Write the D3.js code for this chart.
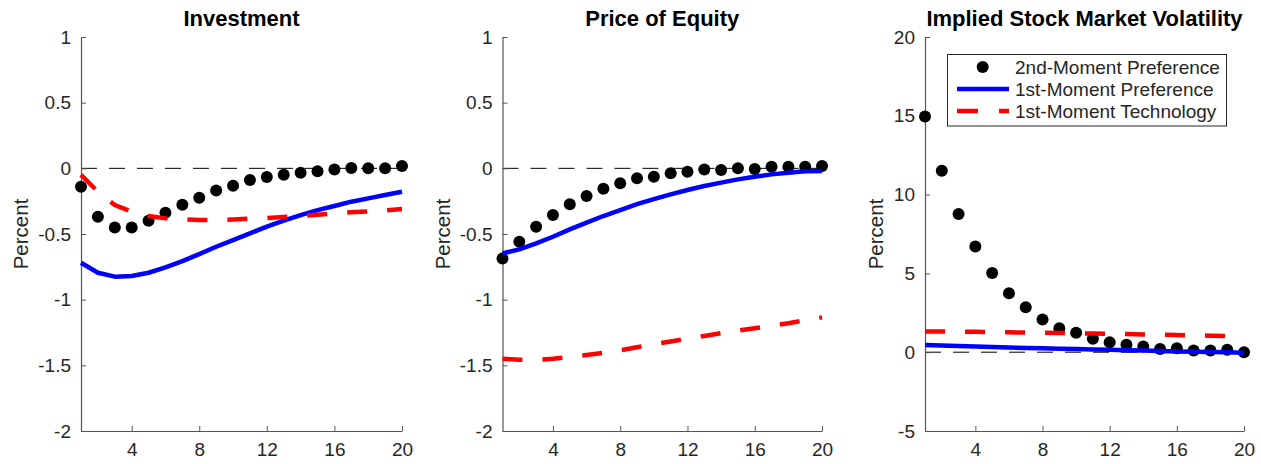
<!DOCTYPE html>
<html>
<head>
<meta charset="utf-8">
<script src="https://cdn.jsdelivr.net/npm/d3@7"></script>
<style>
  html, body { margin: 0; padding: 0; background: #ffffff; }
  svg { display: block; font-family: "Liberation Sans", Arial, Helvetica, sans-serif; }
</style>
</head>
<body>
<svg id="chart" width="1261" height="464"></svg>
<script>
// Horizon (quarters after the shock)
const periods = [1, 2, 3, 4, 5, 6, 7, 8, 9, 10, 11, 12, 13, 14, 15, 16, 17, 18, 19, 20];
const xTicks = [4, 8, 12, 16, 20];

// Investment responses (percent)
const invSecondPref = [-0.14, -0.368, -0.45, -0.45, -0.399, -0.338, -0.277, -0.224, -0.168, -0.132,
                       -0.089, -0.066, -0.048, -0.033, -0.023, -0.008, 0.003, 0.0, 0.0, 0.018];
const invFirstPref  = [-0.719, -0.795, -0.825, -0.82, -0.795, -0.754, -0.706, -0.653, -0.597, -0.546,
                       -0.495, -0.444, -0.399, -0.356, -0.318, -0.287, -0.254, -0.229, -0.203, -0.178];
const invFirstTech  = [-0.05, -0.178, -0.28, -0.33, -0.363, -0.381, -0.389, -0.394, -0.394, -0.389,
                       -0.384, -0.379, -0.371, -0.363, -0.353, -0.343, -0.335, -0.328, -0.32, -0.31];

// Price of equity responses (percent)
const eqSecondPref = [-0.686, -0.559, -0.445, -0.356, -0.274, -0.211, -0.155, -0.114, -0.076, -0.064,
                      -0.038, -0.026, -0.008, -0.013, 0.0, -0.005, 0.012, 0.012, 0.012, 0.018];
const eqFirstPref  = [-0.648, -0.617, -0.571, -0.521, -0.465, -0.414, -0.363, -0.318, -0.272, -0.234,
                      -0.198, -0.165, -0.135, -0.109, -0.084, -0.064, -0.046, -0.033, -0.023, -0.02];
const eqFirstTech  = [-1.450, -1.458, -1.458, -1.450, -1.437, -1.422, -1.405, -1.385, -1.362, -1.338,
                      -1.318, -1.297, -1.276, -1.255, -1.236, -1.217, -1.199, -1.180, -1.157, -1.135];

// Implied stock market volatility responses (percent)
const volSecondPref = [14.95, 11.52, 8.77, 6.70, 5.03, 3.74, 2.85, 2.07, 1.52, 1.23,
                       0.85, 0.63, 0.47, 0.36, 0.21, 0.25, 0.11, 0.11, 0.15, 0.0];
const volFirstPref  = [0.45, 0.42, 0.39, 0.36, 0.33, 0.30, 0.27, 0.25, 0.22, 0.20,
                       0.17, 0.15, 0.12, 0.10, 0.08, 0.05, 0.03, 0.01, -0.01, -0.03];
const volFirstTech  = [1.32, 1.31, 1.30, 1.29, 1.28, 1.26, 1.25, 1.23, 1.22, 1.20,
                       1.18, 1.17, 1.15, 1.13, 1.11, 1.09, 1.07, 1.05, 1.03, 1.01];

// Axis tick values and labels
const pctTicks = [1, 0.5, 0, -0.5, -1, -1.5, -2];
const pctTickLabels = ["1", "0.5", "0", "-0.5", "-1", "-1.5", "-2"];
const volTicks = [20, 15, 10, 5, 0, -5];
const volTickLabels = ["20", "15", "10", "5", "0", "-5"];

const seriesNames = ["2nd-Moment Preference", "1st-Moment Preference", "1st-Moment Technology"];

const panels = [
  { title: "Investment", left: 81, right: 402, labelOffset: 53,
    yDomain: [-2, 1], ticks: pctTicks, tickLabels: pctTickLabels,
    dots: invSecondPref, solid: invFirstPref, dashed: invFirstTech, legend: false },
  { title: "Price of Equity", left: 502.5, right: 822, labelOffset: 53,
    yDomain: [-2, 1], ticks: pctTicks, tickLabels: pctTickLabels,
    dots: eqSecondPref, solid: eqFirstPref, dashed: eqFirstTech, legend: false },
  { title: "Implied Stock Market Volatility", left: 925, right: 1244, labelOffset: 42,
    yDomain: [-5, 20], ticks: volTicks, tickLabels: volTickLabels,
    dots: volSecondPref, solid: volFirstPref, dashed: volFirstTech, legend: true }
];

const plotTop = 37, plotBottom = 431;
const axisColor = "#555555";
const textColor = "#262626";
const blue = "#0000ff";
const red = "#ff0000";

const svg = d3.select("#chart");

panels.forEach(p => {
  const x = d3.scaleLinear().domain([1, 20]).range([p.left, p.right]);
  const y = d3.scaleLinear().domain(p.yDomain).range([plotBottom, plotTop]);
  const g = svg.append("g");

  // zero reference line
  g.append("line")
    .attr("x1", x(1)).attr("x2", x(20))
    .attr("y1", y(0)).attr("y2", y(0))
    .attr("stroke", "#000").attr("stroke-width", 1)
    .attr("stroke-dasharray", "16,12");

  // axes (ticks point inward)
  const yAxis = d3.axisLeft(y)
    .tickValues(p.ticks)
    .tickFormat((d, i) => p.tickLabels[i])
    .tickSizeInner(-5).tickSizeOuter(0).tickPadding(10);
  const xAxis = d3.axisBottom(x)
    .tickValues(xTicks)
    .tickFormat(d3.format("d"))
    .tickSizeInner(-5).tickSizeOuter(0).tickPadding(12);

  const ya = g.append("g").attr("transform", `translate(${p.left},0)`).call(yAxis);
  const xa = g.append("g").attr("transform", `translate(0,${plotBottom})`).call(xAxis);
  [ya, xa].forEach(a => {
    a.select(".domain").attr("stroke", axisColor).attr("stroke-width", 1.2);
    a.selectAll(".tick line").attr("stroke", axisColor).attr("stroke-width", 1);
    a.selectAll(".tick text").attr("fill", textColor)
      .style("font-size", "19px").style("font-family", "'Liberation Sans', Arial, sans-serif");
  });

  // 2nd-moment preference shock: markers
  g.append("g").selectAll("circle")
    .data(periods)
    .join("circle")
    .attr("cx", d => x(d))
    .attr("cy", (d, i) => y(p.dots[i]))
    .attr("r", 6)
    .attr("fill", "#000");

  // 1st-moment preference shock: solid line
  const line = d3.line().x(d => x(d[0])).y(d => y(d[1]));
  g.append("path")
    .datum(periods.map((t, i) => [t, p.solid[i]]))
    .attr("d", line)
    .attr("fill", "none").attr("stroke", blue).attr("stroke-width", 4.5)
    .attr("stroke-linejoin", "round");

  // 1st-moment technology shock: dashed line
  g.append("path")
    .datum(periods.map((t, i) => [t, p.dashed[i]]))
    .attr("d", line)
    .attr("fill", "none").attr("stroke", red).attr("stroke-width", 4.5)
    .attr("stroke-dasharray", "20,20");

  // title
  g.append("text")
    .attr("x", (p.left + p.right) / 2).attr("y", 26)
    .attr("text-anchor", "middle")
    .attr("fill", "#000")
    .style("font-size", "22px").style("font-weight", "bold")
    .text(p.title);

  // y-axis label
  g.append("text")
    .attr("transform", `translate(${p.left - p.labelOffset},${(plotTop + plotBottom) / 2}) rotate(-90)`)
    .attr("text-anchor", "middle")
    .attr("fill", textColor)
    .style("font-size", "20.5px")
    .text("Percent");

  if (p.legend) {
    const lg = svg.append("g");
    lg.append("rect")
      .attr("x", 947.5).attr("y", 54.5).attr("width", 279).attr("height", 71.5)
      .attr("fill", "#fff").attr("stroke", "#262626").attr("stroke-width", 1);
    const rows = [67, 89, 111];
    lg.append("circle").attr("cx", 982.7).attr("cy", rows[0]).attr("r", 6).attr("fill", "#000");
    lg.append("line").attr("x1", 957).attr("x2", 1009).attr("y1", rows[1]).attr("y2", rows[1])
      .attr("stroke", blue).attr("stroke-width", 4.5);
    lg.append("line").attr("x1", 957).attr("x2", 1009).attr("y1", rows[2]).attr("y2", rows[2])
      .attr("stroke", red).attr("stroke-width", 4.5).attr("stroke-dasharray", "21,21");
    seriesNames.forEach((name, i) => {
      lg.append("text")
        .attr("x", 1015).attr("y", rows[i]).attr("dy", "0.36em")
        .attr("fill", textColor)
        .style("font-size", "19px")
        .text(name);
    });
  }
});
</script>
</body>
</html>
